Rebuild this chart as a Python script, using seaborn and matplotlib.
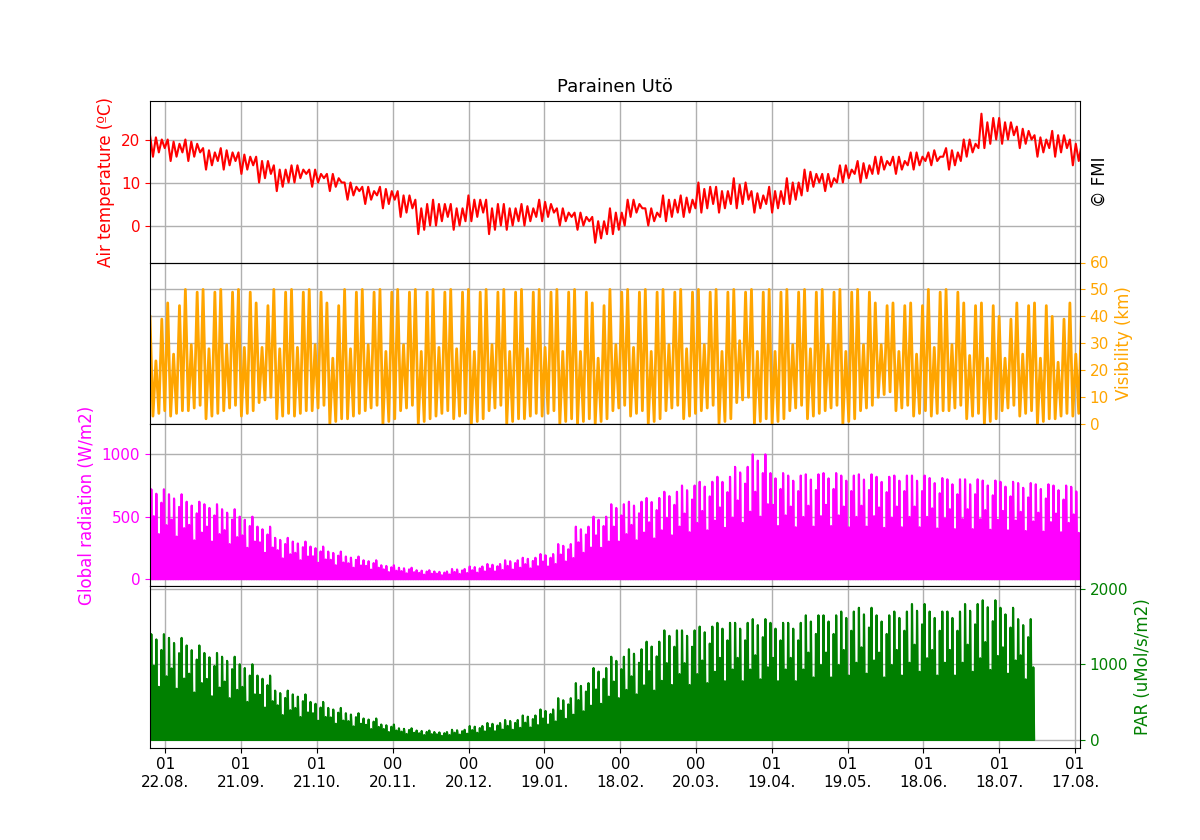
import numpy as np
import pandas as pd
import matplotlib
matplotlib.use("Agg")
import matplotlib.pyplot as plt
import seaborn as sns

# weekly values starting 16.08.2022
temp_hi = [21,20,20,18,18,17,16,14,14,13,12,10,9,9,8,6,6,5,7,6,5,5,6,4,3,2,4,6,4,7,7,10,9,11,8,9,11,13,12,14,15,16,16,17,17,18,20,26,25,23,21,22,20]
temp_lo = [16,15,15,13,13,12,10,8,10,9,8,6,5,4,2,-2,0,-1,1,-2,-1,0,1,0,-1,-4,-2,2,0,1,2,3,3,4,3,3,5,8,8,10,10,12,12,13,14,13,16,18,19,18,16,16,14]
vis_hi = [40,45,50,50,50,50,45,50,50,50,45,50,50,50,50,50,50,50,50,50,50,50,50,50,50,45,50,50,50,50,50,50,50,50,50,50,50,50,50,50,50,45,45,45,50,50,45,45,40,45,45,40,45]
vis_lo = [3,3,5,2,5,3,8,2,3,5,0,2,5,0,5,0,3,2,0,5,0,2,3,0,0,0,5,3,0,5,2,5,0,8,0,0,5,2,5,0,5,10,5,3,3,5,2,0,5,3,0,2,3]
rad_peak = [720,680,620,600,560,500,420,330,300,260,220,180,150,110,90,70,60,80,100,120,150,170,200,280,420,500,600,620,650,700,750,780,820,900,1000,850,830,840,850,830,840,820,830,830,810,800,800,790,780,770,760,750,740]
par_peak = [1400,1350,1250,1150,1100,1000,850,650,600,500,420,350,280,200,150,120,100,130,180,220,260,320,400,550,750,950,1100,1200,1300,1450,1450,1500,1550,1550,1600,1550,1550,1650,1650,1700,1750,1650,1700,1800,1700,1700,1800,1850,1750,1600]
tick_labels = ["01\n22.08.","01\n21.09.","01\n21.10.","00\n20.11.","00\n20.12.","00\n19.01.","00\n18.02.","00\n20.03.","01\n19.04.","01\n19.05.","01\n18.06.","01\n18.07.","01\n17.08."]

def zig(hi, lo, step):
    t, v = [], []
    for i, (h, l) in enumerate(zip(hi, lo)):
        for j, val in enumerate([h, l, (h + l) / 2 + 2, l + 1, h - 1, l + 2]):
            t.append(i * 7 + j * step)
            v.append(val)
    return pd.DataFrame({"t": t, "v": v})

def daily(peaks):
    t, v = [], []
    for i, p in enumerate(peaks):
        for d in range(7):
            day = i * 7 + d
            f = [1.0, 0.7, 0.95, 0.5, 0.85, 1.0, 0.6][d]
            t += [day + 0.2, day + 0.5, day + 0.8]
            v += [0, p * f, 0]
    return pd.DataFrame({"t": t, "v": v})

fig, axes = plt.subplots(4, 1, figsize=(12, 8.4), dpi=100, sharex=True)
fig.subplots_adjust(left=0.125, right=0.9, top=0.88, bottom=0.11, hspace=0.0)
xmin, xmax = 0, 368

ax = axes[0]
d = zig(temp_hi, temp_lo, 7 / 6)
sns.lineplot(data=d, x="t", y="v", ax=ax, color="red", lw=1.5)
ax.set_ylim(-8.6, 29); ax.set_yticks([0, 10, 20])
ax.set_ylabel("Air temperature (ºC)", color="red", fontsize=12)
ax.tick_params(axis="y", colors="red", labelsize=11)
ax.set_title("Parainen Utö", fontsize=13)
ax.text(1.012, 0.5, "© FMI", transform=ax.transAxes, rotation=90, va="center", fontsize=12)

ax = axes[1]
d = zig(vis_hi, vis_lo, 7 / 6)
sns.lineplot(data=d, x="t", y="v", ax=ax, color="orange", lw=2)
ax.set_ylim(0, 60); ax.set_yticks(range(0, 61, 10))
ax.yaxis.tick_right(); ax.yaxis.set_label_position("right")
ax.set_ylabel("Visibility (km)", color="orange", fontsize=12)
ax.tick_params(axis="y", colors="orange", labelsize=11)

ax = axes[2]
d = daily(rad_peak)
sns.lineplot(data=d, x="t", y="v", ax=ax, color="magenta", lw=1.5)
ax.fill_between(d.t, d.v, color="magenta")
ax.set_ylim(-56, 1242); ax.set_yticks([0, 500, 1000])
ax.set_ylabel("Global radiation (W/m2)", color="magenta", fontsize=12)
ax.tick_params(axis="y", colors="magenta", labelsize=11)

ax = axes[3]
d = daily(par_peak)
sns.lineplot(data=d, x="t", y="v", ax=ax, color="green", lw=1.5)
ax.fill_between(d.t, d.v, color="green")
ax.set_ylim(-107, 2040); ax.set_yticks([0, 1000, 2000])
ax.yaxis.tick_right(); ax.yaxis.set_label_position("right")
ax.set_ylabel("PAR (uMol/s/m2)", color="green", fontsize=12)
ax.tick_params(axis="y", colors="green", labelsize=11)

for a in axes:
    a.set_xlim(xmin, xmax)
    a.grid(True, color="#b0b0b0", lw=1)
    a.set_axisbelow(True)
    a.set_xlabel("")
axes[3].set_xticks([6.04 + 30 * k for k in range(len(tick_labels))])
axes[3].set_xticklabels(tick_labels, fontsize=11)
fig.savefig("out.png", dpi=100)
